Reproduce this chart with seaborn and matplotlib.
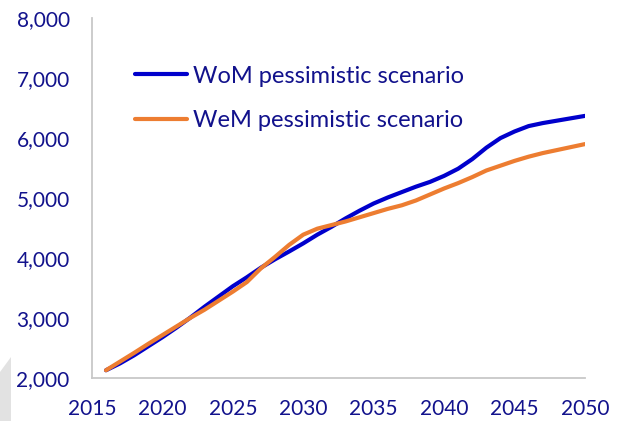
import numpy as np
import pandas as pd
import seaborn as sns
import matplotlib.pyplot as plt
from matplotlib.patches import Polygon

# Values
years = list(range(2016, 2051))
wom = [2130, 2245, 2380, 2530, 2680, 2840, 3010, 3190, 3360, 3530,
       3680, 3840, 3980, 4110, 4245, 4390, 4520, 4660, 4790, 4910,
       5010, 5100, 5190, 5270, 5370, 5490, 5650, 5840, 6000, 6110,
       6200, 6250, 6290, 6330, 6370]
wem = [2130, 2275, 2420, 2570, 2715, 2860, 3005, 3140, 3290, 3440,
       3600, 3830, 4020, 4220, 4390, 4490, 4550, 4610, 4680, 4750,
       4820, 4880, 4960, 5060, 5160, 5250, 5350, 5460, 5540, 5620,
       5690, 5750, 5800, 5850, 5900]
series_names = ['WoM pessimistic scenario', 'WeM pessimistic scenario']
x_ticks = [2015, 2020, 2025, 2030, 2035, 2040, 2045, 2050]
y_ticks = [2000, 3000, 4000, 5000, 6000, 7000, 8000]

df = pd.DataFrame({'year': years * 2,
                   'value': wom + wem,
                   'scenario': [series_names[0]] * len(years) + [series_names[1]] * len(years)})

text_col = '#12128c'
sns.set_style('white')
plt.rcParams['font.family'] = ['Lato', 'DejaVu Sans']

fig = plt.figure(figsize=(6.21, 4.21), dpi=100)
ax = fig.add_axes([0.148, 0.102, 0.794, 0.855])

sns.lineplot(data=df, x='year', y='value', hue='scenario', hue_order=series_names,
             palette=['#0000cc', '#ed7d31'], linewidth=3, ax=ax)

ax.set_xlim(2015, 2050)
ax.set_ylim(2000, 8000)
ax.set_xticks(x_ticks)
ax.set_yticks(y_ticks)
ax.set_yticklabels([f'{v:,}' for v in y_ticks])
ax.tick_params(axis='both', length=0, labelsize=15, colors=text_col)
ax.tick_params(axis='y', pad=16)
ax.tick_params(axis='x', pad=15)
ax.set_xlabel('')
ax.set_ylabel('')

for s in ['top', 'right']:
    ax.spines[s].set_visible(False)
for s in ['left', 'bottom']:
    ax.spines[s].set_color('#c8c8c8')
    ax.spines[s].set_linewidth(1.3)

leg = ax.legend(loc='upper left', bbox_to_anchor=(0.087, 0.868), frameon=False,
                fontsize=17, handlelength=2.2, handletextpad=0.25,
                labelspacing=1.0, borderpad=0, borderaxespad=0)
for t in leg.get_texts():
    t.set_color(text_col)

# grey corner shape at the bottom left
fig.patches.append(Polygon([(0, 49 / 421), (11 / 621, 64 / 421), (11 / 621, 0), (0, 0)],
                           closed=True, transform=fig.transFigure,
                           facecolor='#e2e2e2', edgecolor='none'))

fig.savefig('out.png', dpi=100)
